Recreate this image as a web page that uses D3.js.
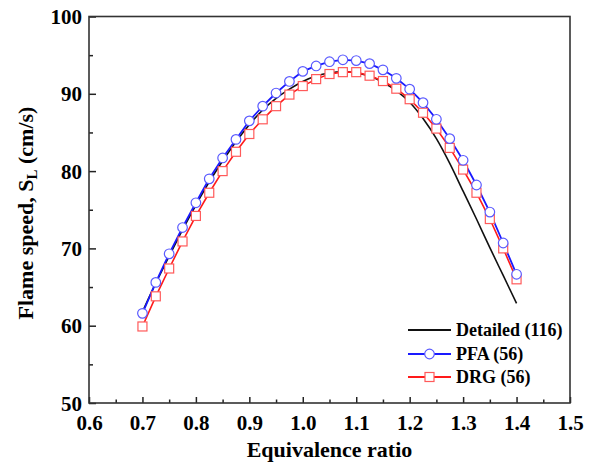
<!DOCTYPE html>
<html>
<head>
<meta charset="utf-8">
<script src="https://cdn.jsdelivr.net/npm/d3@7"></script>
<style>
  html, body { margin: 0; padding: 0; background: #fff; }
</style>
</head>
<body>
<svg id="chart" width="592" height="464"></svg>
<script>
// ---- data ----
const phi = [0.7, 0.725, 0.75, 0.775, 0.8, 0.825, 0.85, 0.875, 0.9, 0.925, 0.95, 0.975,
             1.0, 1.025, 1.05, 1.075, 1.1, 1.125, 1.15, 1.175, 1.2, 1.225, 1.25, 1.275,
             1.3, 1.325, 1.35, 1.375, 1.4];
const detailed = [61.8, 65.5, 69.0, 72.4, 75.6, 78.6, 81.3, 83.8, 86.0, 87.9, 89.4, 90.6,
                  91.6, 92.3, 92.7, 92.85, 92.7, 92.3, 91.5, 90.4, 88.9, 86.8, 84.2, 81.0,
                  77.4, 73.8, 70.1, 66.5, 62.9];
const pfa = [61.6, 65.6, 69.3, 72.7, 75.9, 79.0, 81.7, 84.1, 86.5, 88.4, 90.1, 91.6,
             92.9, 93.6, 94.15, 94.4, 94.3, 93.9, 93.1, 92.0, 90.6, 88.85, 86.7, 84.2,
             81.4, 78.2, 74.7, 70.7, 66.65];
const drg = [59.9, 63.8, 67.4, 70.9, 74.2, 77.2, 80.0, 82.5, 84.8, 86.7, 88.4, 89.9,
             91.0, 91.9, 92.56, 92.8, 92.8, 92.34, 91.65, 90.66, 89.3, 87.55, 85.5, 83.0,
             80.2, 77.2, 73.8, 70.0, 66.0];
const xTicks = [0.6, 0.7, 0.8, 0.9, 1.0, 1.1, 1.2, 1.3, 1.4, 1.5];
const xMinor = [0.65, 0.75, 0.85, 0.95, 1.05, 1.15, 1.25, 1.35, 1.45];
const yTicks = [50, 60, 70, 80, 90, 100];
const yMinor = [55, 65, 75, 85, 95];
const legendLabels = ["Detailed (116)", "PFA (56)", "DRG (56)"];

// ---- layout ----
const FONT = "Liberation Serif";
const L = 89, R = 570, T = 16.5, B = 403;
const svg = d3.select("#chart");
const x = d3.scaleLinear().domain([0.6, 1.5]).range([L, R]);
const y = d3.scaleLinear().domain([50, 100]).range([B, T]);

// axes
const gx = svg.append("g").attr("transform", `translate(0,${B})`)
  .call(d3.axisBottom(x).tickValues(xTicks).tickSize(-6).tickPadding(12)
    .tickFormat(d3.format(".1f")));
const gxm = svg.append("g").attr("transform", `translate(0,${B})`)
  .call(d3.axisBottom(x).tickValues(xMinor).tickSize(-3.5).tickFormat(""));
const gy = svg.append("g").attr("transform", `translate(${L},0)`)
  .call(d3.axisLeft(y).tickValues(yTicks).tickSize(-7).tickPadding(7));
const gym = svg.append("g").attr("transform", `translate(${L},0)`)
  .call(d3.axisLeft(y).tickValues(yMinor).tickSize(-4).tickFormat(""));
[gx, gxm, gy, gym].forEach(g => {
  g.attr("font-family", FONT).attr("font-size", 21).attr("font-weight", "bold");
  g.select(".domain").remove();
  g.selectAll(".tick line").attr("stroke", "#222").attr("stroke-width", 1.5);
  g.selectAll("text").attr("fill", "#000").attr("font-family", FONT);
});
gy.selectAll("text").attr("dy", "0.34em");
gx.selectAll("text").attr("dy", "0.72em");

// frame
svg.append("rect").attr("x", L).attr("y", T).attr("width", R - L).attr("height", B - T)
  .attr("fill", "none").attr("stroke", "#333").attr("stroke-width", 1.6);

// data lines
const idx = d3.range(phi.length);
const lineOf = (arr, curve) => d3.line().x(i => x(phi[i])).y(i => y(arr[i])).curve(curve);

svg.append("path").attr("d", lineOf(detailed, d3.curveMonotoneX)(idx))
  .attr("fill", "none").attr("stroke", "#111").attr("stroke-width", 1.6);
svg.append("path").attr("d", lineOf(drg, d3.curveLinear)(idx))
  .attr("fill", "none").attr("stroke", "#ff1a1a").attr("stroke-width", 1.6);
svg.append("path").attr("d", lineOf(pfa, d3.curveLinear)(idx))
  .attr("fill", "none").attr("stroke", "#1a1aff").attr("stroke-width", 1.8);

// markers
svg.append("g").selectAll("rect").data(idx).join("rect")
  .attr("x", i => x(phi[i]) - 4.5).attr("y", i => y(drg[i]) - 4.5)
  .attr("width", 9).attr("height", 9)
  .attr("fill", "#fff").attr("stroke", "#ff5a5a").attr("stroke-width", 1.2);
svg.append("g").selectAll("circle").data(idx).join("circle")
  .attr("cx", i => x(phi[i])).attr("cy", i => y(pfa[i])).attr("r", 4.8)
  .attr("fill", "#fff").attr("stroke", "#5a5aff").attr("stroke-width", 1.2);

// legend
const lg = svg.append("g");
const ly = [330, 354, 377];
const lcol = ["#111", "#1a1aff", "#ff1a1a"];
ly.forEach((yy, k) => {
  lg.append("line").attr("x1", 408).attr("x2", 451).attr("y1", yy).attr("y2", yy)
    .attr("stroke", lcol[k]).attr("stroke-width", 1.8);
  lg.append("text").attr("x", 456).attr("y", yy).attr("dy", "0.35em")
    .attr("font-family", FONT).attr("font-weight", "bold")
    .attr("font-size", 18).text(legendLabels[k]);
});
lg.append("circle").attr("cx", 429.5).attr("cy", ly[1]).attr("r", 4.8)
  .attr("fill", "#fff").attr("stroke", "#5a5aff").attr("stroke-width", 1.2);
lg.append("rect").attr("x", 425).attr("y", ly[2] - 4.5).attr("width", 9).attr("height", 9)
  .attr("fill", "#fff").attr("stroke", "#ff5a5a").attr("stroke-width", 1.2);

// axis titles
svg.append("text").attr("x", (L + R) / 2).attr("y", 457).attr("text-anchor", "middle")
  .attr("font-family", FONT).attr("font-weight", "bold")
  .attr("font-size", 22).text("Equivalence ratio");
const yt = svg.append("text").attr("transform", "translate(33,213) rotate(-90)")
  .attr("text-anchor", "middle").attr("font-family", FONT).attr("font-weight", "bold")
  .attr("font-size", 22);
yt.append("tspan").text("Flame speed, S");
yt.append("tspan").attr("dy", "4").attr("font-size", 15).text("L");
yt.append("tspan").attr("dy", "-4").text(" (cm/s)");
</script>
</body>
</html>
